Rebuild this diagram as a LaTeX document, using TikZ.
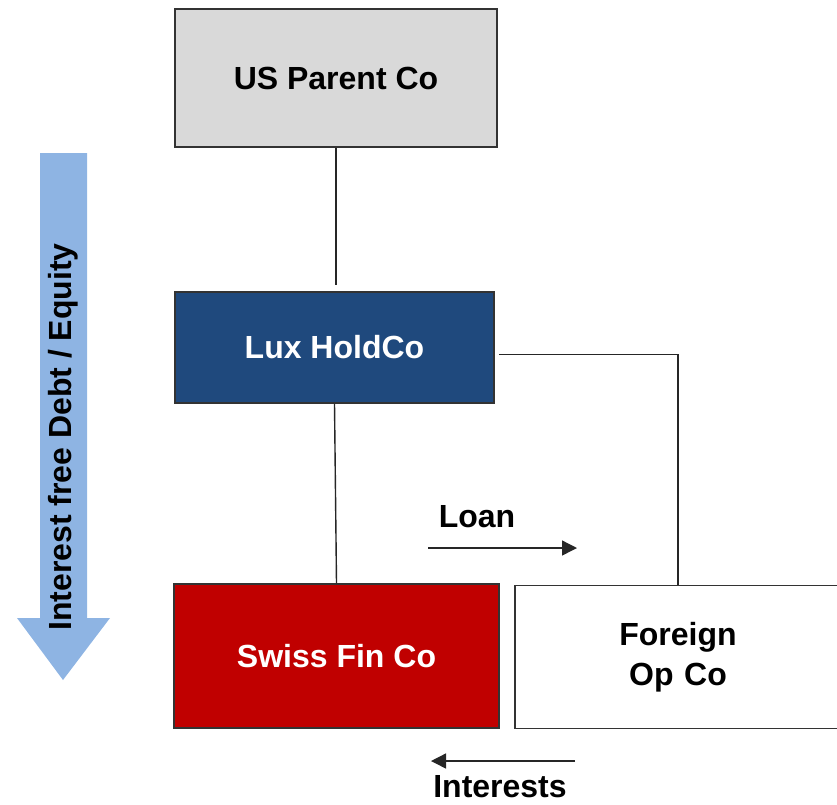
\documentclass[tikz,border=0pt]{standalone}
\usepackage{fontspec}
\setmainfont{Liberation Sans}
\usetikzlibrary{arrows.meta}
\definecolor{pgray}{HTML}{D9D9D9}
\definecolor{pnavy}{HTML}{1F497D}
\definecolor{pred}{HTML}{C00000}
\definecolor{pblue}{HTML}{8EB4E3}
\tikzset{
  entity/.style={draw=black!80, line width=1.5pt, rectangle, inner sep=0pt,
    font=\fontsize{32}{40}\selectfont\bfseries, align=center},
  link/.style={draw=black!85, line width=1.4pt},
  flow/.style={draw=black!85, line width=1.4pt, -{Triangle[length=15pt,width=15pt]}},
  lbl/.style={font=\fontsize{32}{38}\selectfont\bfseries, inner sep=0pt}
}
\begin{document}
\begin{tikzpicture}[x=1pt,y=-1pt]
\useasboundingbox (0,0) rectangle (837,804);
% vertical arrow
\fill[pblue] (40,153) -- (87,153) -- (87,618) -- (110,618) -- (63,680) -- (17,618) -- (40,618) -- cycle;
\node[lbl, rotate=90] (side) at (63,437) {Interest free Debt / Equity};
% boxes
\node[entity, fill=pgray, minimum width=322pt, minimum height=138pt] (us) at (336,78) {US Parent Co};
\node[entity, fill=pnavy, text=white, minimum width=319pt, minimum height=111pt] (lux) at (334.5,347.5) {Lux HoldCo};
\node[entity, fill=pred, text=white, minimum width=325pt, minimum height=144pt] (swiss) at (336.5,656) {Swiss Fin Co};
\node[entity, fill=white, minimum width=326pt, minimum height=143pt, text width=200pt] (foreign) at (678,657) {Foreign\\Op Co};
% connectors
\coordinate (usend) at ([yshift=6pt]lux.north);
\draw[link] (us.south) -- (us.south |- usend);
\draw[link] (lux.south) -- (swiss.north);
\coordinate (luxr) at ([shift={(4pt,-7pt)}]lux.east);
\draw[link] (luxr) -| (foreign.north);
% loan / interests
\coordinate (loanA) at (428,548);
\coordinate (loanB) at (577,548);
\draw[flow] (loanA) -- (loanB);
\node[lbl, anchor=base] (loan) at (477,527) {Loan};
\coordinate (intA) at (575,761);
\coordinate (intB) at (431,761);
\draw[flow] (intA) -- (intB);
\node[lbl, anchor=base] (interests) at (500,797) {Interests};
\end{tikzpicture}
\end{document}
